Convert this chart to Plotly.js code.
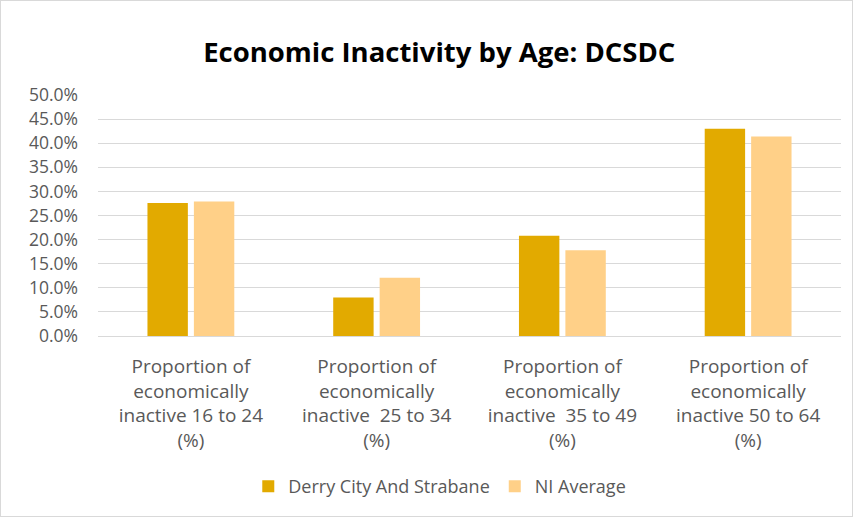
<!DOCTYPE html>
<html>
<head>
<meta charset="utf-8">
<script src="https://cdn.plot.ly/plotly-3.0.1.min.js"></script>
<style>
html,body{margin:0;padding:0;background:#fff;}
#chart{width:851px;height:515px;border:1px solid #d9d9d9;}
</style>
</head>
<body>
<div id="chart"></div>
<script>
const categories = [
  "Proportion of<br>economically<br>inactive 16 to 24<br>(%)",
  "Proportion of<br>economically<br>inactive  25 to 34<br>(%)",
  "Proportion of<br>economically<br>inactive  35 to 49<br>(%)",
  "Proportion of<br>economically<br>inactive 50 to 64<br>(%)"
];
const derryValues = [0.276, 0.080, 0.208, 0.430];
const niValues = [0.279, 0.121, 0.178, 0.414];
const seriesNames = ["Derry City And Strabane", "NI Average"];

const traces = [
  {type:'bar', name:seriesNames[0], x:categories, y:derryValues,
   marker:{color:'#E2AA00'}, hoverinfo:'none'},
  {type:'bar', name:seriesNames[1], x:categories, y:niValues,
   marker:{color:'#FFD088'}, hoverinfo:'none'}
];

const layout = {
  width:851, height:515,
  margin:{l:97, r:11, t:94, b:178},
  paper_bgcolor:'#fff', plot_bgcolor:'#fff',
  title:{text:'<b>Economic Inactivity by Age: DCSDC</b>', x:0.515, xanchor:'center', y:0.9, yanchor:'middle',
         font:{family:'Open Sans, sans-serif', size:27.5, color:'#000'}},
  barmode:'group', bargap:0.5, bargroupgap:0.13,
  font:{family:'Open Sans, sans-serif', color:'#595959'},
  xaxis:{showgrid:false, zeroline:false, showline:true, linecolor:'#d9d9d9', ticks:'',
         ticklabelstandoff:13,
         tickfont:{size:19, color:'#595959'}, automargin:false},
  yaxis:{range:[0,0.5], dtick:0.05, tickformat:'.1%', showgrid:true, gridcolor:'#d9d9d9',
         zeroline:false, showline:false, ticks:'', ticklabelstandoff:19,
         tickfont:{size:17.5, color:'#595959'}, automargin:false},
  showlegend:true,
  legend:{orientation:'h', x:0.46, xanchor:'center', y:-0.625, yanchor:'middle',
          font:{size:18, color:'#595959'}, traceorder:'normal', itemwidth:30}
};

Plotly.newPlot('chart', traces, layout, {displayModeBar:false, staticPlot:true});
</script>
</body>
</html>
